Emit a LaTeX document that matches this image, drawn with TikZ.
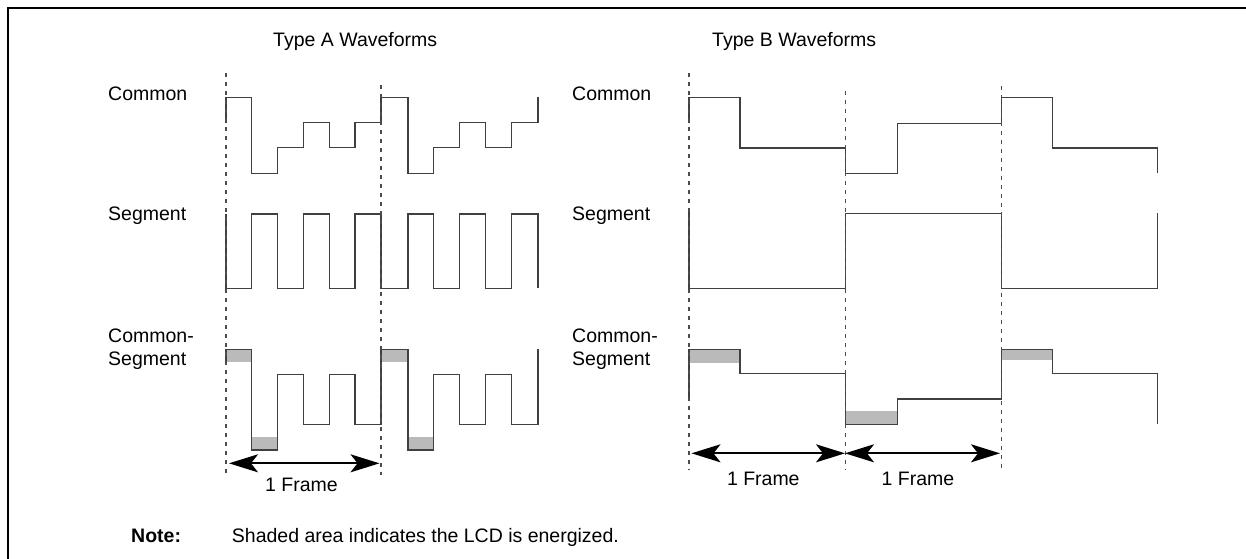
\documentclass[tikz,border=0pt]{standalone}
\usepackage{fontspec}
\setmainfont{Liberation Sans}
\usetikzlibrary{arrows.meta}
\begin{document}
\begin{tikzpicture}[x=1pt,y=-1pt,
  wave/.style={draw=black!75, line width=1.2pt, line join=miter},
  shade/.style={fill=black!27, draw=none},
  frameline/.style={draw=black!70, line width=1.1pt, dash pattern=on 4pt off 5pt},
  framearrow/.style={line width=2pt, {Stealth[length=29pt,width=18pt,inset=7pt]}-{Stealth[length=29pt,width=18pt,inset=7pt]}},
  lbl/.style={anchor=base west, inner sep=0pt, font=\fontsize{19.5}{22}\selectfont},
  clbl/.style={anchor=base, inner sep=0pt, font=\fontsize{19.5}{22}\selectfont}]
\useasboundingbox (0,0) rectangle (1246,558);
\fill[white] (0,0) rectangle (1246,558);
% border
\draw[line width=2pt] (8,562) -- (8,8) -- (1250,8);

% titles and labels
\node[lbl] (tA) at (273,46.7) {Type A Waveforms};
\node[lbl] (tB) at (712,46.7) {Type B Waveforms};
\node[lbl] (cA) at (108,100.7) {Common};
\node[lbl] (sA) at (108,220.7) {Segment};
\node[lbl] (csA1) at (108,342.7) {Common-};
\node[lbl] (csA2) at (108,365) {Segment};
\node[lbl] (cB) at (572,100.7) {Common};
\node[lbl] (sB) at (572,220.7) {Segment};
\node[lbl] (csB1) at (572,342.7) {Common-};
\node[lbl] (csB2) at (572,365) {Segment};
\node[clbl] (fA) at (301.5,491.7) {1 Frame};
\node[clbl] (fB1) at (763.3,485) {1 Frame};
\node[clbl] (fB2) at (918,485) {1 Frame};
\node[lbl, font=\fontsize{19.5}{22}\selectfont\bfseries] (note) at (131,542.7) {Note:};
\node[lbl] (notetext) at (231.7,542.7) {Shaded area indicates the LCD is energized.};

% ---------- Type A ----------
\def\aO{226}\def\aA{251.5}\def\aB{277.5}\def\aC{303.3}\def\aD{329.3}\def\aE{355}\def\aF{381}
\def\bA{408}\def\bB{433.5}\def\bC{459.3}\def\bD{485.3}\def\bE{511.5}\def\bF{538}
% shaded areas
\fill[shade] (\aO,349.3) rectangle (\aA,361.7);
\fill[shade] (\aA,437.3) rectangle (\aB,450);
\fill[shade] (\aF,349.3) rectangle (\bA,361.7);
\fill[shade] (\bA,437.3) rectangle (\bB,450);
% common
\draw[wave] (\aO,122.5) -- (\aO,97.3) -- (\aA,97.3) -- (\aA,173.3) -- (\aB,173.3) -- (\aB,147.7) -- (\aC,147.7) -- (\aC,122.5) -- (\aD,122.5) -- (\aD,147.7) -- (\aE,147.7) -- (\aE,122.5) -- (\aF,122.5) -- (\aF,97.3) -- (\bA,97.3) -- (\bA,173.3) -- (\bB,173.3) -- (\bB,147.7) -- (\bC,147.7) -- (\bC,122.5) -- (\bD,122.5) -- (\bD,147.7) -- (\bE,147.7) -- (\bE,122.5) -- (\bF,122.5) -- (\bF,97.3);
% segment
\draw[wave] (\aO,214) -- (\aO,288.3) -- (\aA,288.3) -- (\aA,214) -- (\aB,214) -- (\aB,288.3) -- (\aC,288.3) -- (\aC,214) -- (\aD,214) -- (\aD,288.3) -- (\aE,288.3) -- (\aE,214) -- (\aF,214) -- (\aF,288.3) -- (\bA,288.3) -- (\bA,214) -- (\bB,214) -- (\bB,288.3) -- (\bC,288.3) -- (\bC,214) -- (\bD,214) -- (\bD,288.3) -- (\bE,288.3) -- (\bE,214) -- (\bF,214) -- (\bF,288.3);
% common - segment
\draw[wave] (\aO,362) -- (\aO,349.3) -- (\aA,349.3) -- (\aA,450) -- (\aB,450) -- (\aB,374.3) -- (\aC,374.3) -- (\aC,424.3) -- (\aD,424.3) -- (\aD,374.3) -- (\aE,374.3) -- (\aE,424.3) -- (\aF,424.3) -- (\aF,349.3) -- (\bA,349.3) -- (\bA,450) -- (\bB,450) -- (\bB,374.3) -- (\bC,374.3) -- (\bC,424.3) -- (\bD,424.3) -- (\bD,374.3) -- (\bE,374.3) -- (\bE,424.3) -- (\bF,424.3) -- (\bF,349.3);
% frame markers
\coordinate (mA0t) at (\aO,73);  \coordinate (mA0b) at (\aO,477);
\coordinate (mA1t) at (\aF,85);  \coordinate (mA1b) at (\aF,475);
\draw[frameline] (mA0t) -- (mA0b);
\draw[frameline] (mA1t) -- (mA1b);
\coordinate (arA0) at (229,463.3); \coordinate (arA1) at (379.5,463.3);
\draw[framearrow] (arA0) -- (arA1);

% ---------- Type B ----------
\def\dO{689}\def\dA{740}\def\dB{845.5}\def\dC{897.7}\def\dD{1001.5}\def\dE{1052.7}\def\dF{1157.5}
\fill[shade] (\dO,349.3) rectangle (\dA,362.5);
\fill[shade] (\dB,411) rectangle (\dC,424.3);
\fill[shade] (\dD,349.3) rectangle (\dE,360);
% common
\draw[wave] (\dO,123.3) -- (\dO,97.5) -- (\dA,97.5) -- (\dA,148) -- (\dB,148) -- (\dB,173.3) -- (\dC,173.3) -- (\dC,123.3) -- (\dD,123.3) -- (\dD,97.5) -- (\dE,97.5) -- (\dE,148) -- (\dF,148) -- (\dF,173.3);
% segment
\draw[wave] (\dO,211) -- (\dO,288.3) -- (\dB,288.3) -- (\dB,213.3) -- (\dD,213.3) -- (\dD,288.3) -- (\dF,288.3) -- (\dF,213.3);
% common - segment
\draw[wave] (\dO,399) -- (\dO,349.3) -- (\dA,349.3) -- (\dA,373.3) -- (\dB,373.3) -- (\dB,424.3) -- (\dC,424.3) -- (\dC,399) -- (\dD,399) -- (\dD,349.3) -- (\dE,349.3) -- (\dE,373.3) -- (\dF,373.3) -- (\dF,424.3);
% frame markers
\coordinate (mB0t) at (\dO,73);  \coordinate (mB0b) at (\dO,470);
\coordinate (mB1t) at (\dB,91);  \coordinate (mB1b) at (\dB,470);
\coordinate (mB2t) at (\dD,86);  \coordinate (mB2b) at (\dD,470);
\draw[frameline] (mB0t) -- (mB0b);
\draw[frameline] (mB1t) -- (mB1b);
\draw[frameline] (mB2t) -- (mB2b);
\coordinate (arB0) at (691.5,453.3); \coordinate (arB1) at (845,453.3); \coordinate (arB2) at (1000,453.3);
\draw[framearrow] (arB0) -- (arB1);
\draw[framearrow] (arB1) -- (arB2);
\end{tikzpicture}
\end{document}
